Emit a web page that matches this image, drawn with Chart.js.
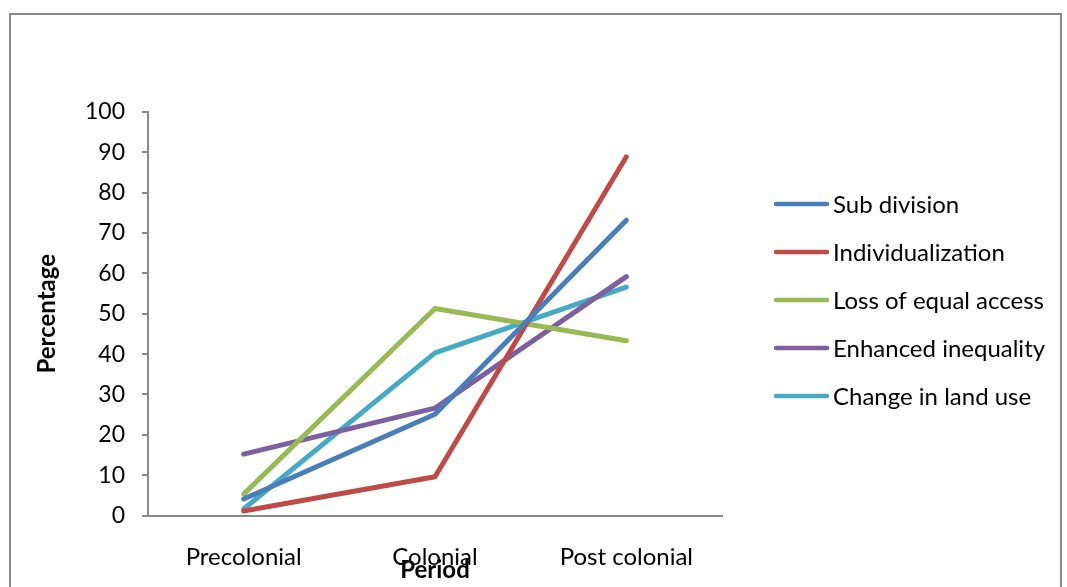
<!DOCTYPE html>
<html>
<head>
<meta charset="utf-8">
<script src="https://cdn.jsdelivr.net/npm/chart.js@4.4.1/dist/chart.umd.min.js"></script>
<style>
  html, body { margin: 0; padding: 0; background: #fff; overflow: hidden; }
  #frame { position: absolute; left: 9px; top: 13px; width: 1053px; height: 620px; border: 2px solid #8a8a8a; box-sizing: border-box; }
  #wrap { position: absolute; left: 0; top: 0; width: 1067px; height: 587px; }
</style>
</head>
<body>
<div id="frame"></div>
<div id="wrap"><canvas id="chart" width="1067" height="587"></canvas></div>
<script>
// Periods on the x axis
const periods = ['Precolonial', 'Colonial', 'Post colonial'];

// Percentage per period for each land-tenure change
const subDivision        = [4.1, 25.1, 73.2];
const individualization  = [1.1, 9.6, 88.9];
const lossOfEqualAccess  = [5.3, 51.3, 43.3];
const enhancedInequality = [15.2, 26.6, 59.2];
const changeInLandUse    = [1.6, 40.3, 56.6];

const seriesNames  = ['Sub division', 'Individualization', 'Loss of equal access', 'Enhanced inequality', 'Change in land use'];
const seriesValues = [subDivision, individualization, lossOfEqualAccess, enhancedInequality, changeInLandUse];
const seriesColors = ['#4a7ebb', '#be4b48', '#98b954', '#7d60a0', '#46aac5'];

const yTicks = [0, 10, 20, 30, 40, 50, 60, 70, 80, 90, 100];

const FONT = 'Lato, "Open Sans", sans-serif';

// Legend drawn to the right of the plot: a short line sample then the name
const sideLegend = {
  id: 'sideLegend',
  afterDraw(chart) {
    const ctx = chart.ctx;
    ctx.save();
    ctx.font = '24px ' + FONT;
    ctx.textBaseline = 'middle';
    ctx.textAlign = 'left';
    chart.data.datasets.forEach((ds, i) => {
      const y = 204 + i * 48;
      ctx.strokeStyle = ds.borderColor;
      ctx.lineWidth = 4.5;
      ctx.lineCap = 'round';
      ctx.beginPath();
      ctx.moveTo(776, y);
      ctx.lineTo(827, y);
      ctx.stroke();
      ctx.fillStyle = '#000';
      ctx.fillText(ds.label, 833, y + 1);
    });
    ctx.restore();
  }
};

new Chart(document.getElementById('chart'), {
  type: 'line',
  data: {
    labels: periods,
    datasets: seriesNames.map((name, i) => ({
      label: name,
      data: seriesValues[i],
      borderColor: seriesColors[i],
      backgroundColor: seriesColors[i],
      borderWidth: 5,
      borderCapStyle: 'round',
      borderJoinStyle: 'round',
      pointRadius: 0,
      tension: 0,
      fill: false
    }))
  },
  options: {
    responsive: false,
    animation: false,
    devicePixelRatio: 1,
    layout: { padding: { left: 10, top: 112, right: 345, bottom: 0 } },
    plugins: { legend: { display: false }, tooltip: { enabled: false } },
    scales: {
      x: {
        offset: true,
        grid: { display: false, drawTicks: false },
        border: { display: true, color: '#8a8a8a', width: 2 },
        ticks: { color: '#000', font: { family: FONT, size: 24 }, padding: 27, maxRotation: 0 },
        title: { display: true, text: 'Period', color: '#000', font: { family: FONT, size: 24, weight: 'bold' }, padding: { top: 0, bottom: 2 } },
        afterFit(scale) { scale.height = 587 - 515.5; }
      },
      y: {
        min: 0,
        max: 100,
        afterBuildTicks(scale) { scale.ticks = yTicks.map(v => ({ value: v })); },
        grid: { drawOnChartArea: false, tickLength: 6, color: '#8a8a8a', lineWidth: 2 },
        border: { display: true, color: '#8a8a8a', width: 2 },
        ticks: { color: '#000', font: { family: FONT, size: 23 }, padding: 17 },
        title: { display: true, text: 'Percentage', color: '#000', font: { family: FONT, size: 24, weight: 'bold' }, padding: { top: 23, bottom: 0 } },
        afterFit(scale) { scale.width = 148 - 10; }
      }
    }
  },
  plugins: [sideLegend]
});
</script>
</body>
</html>
